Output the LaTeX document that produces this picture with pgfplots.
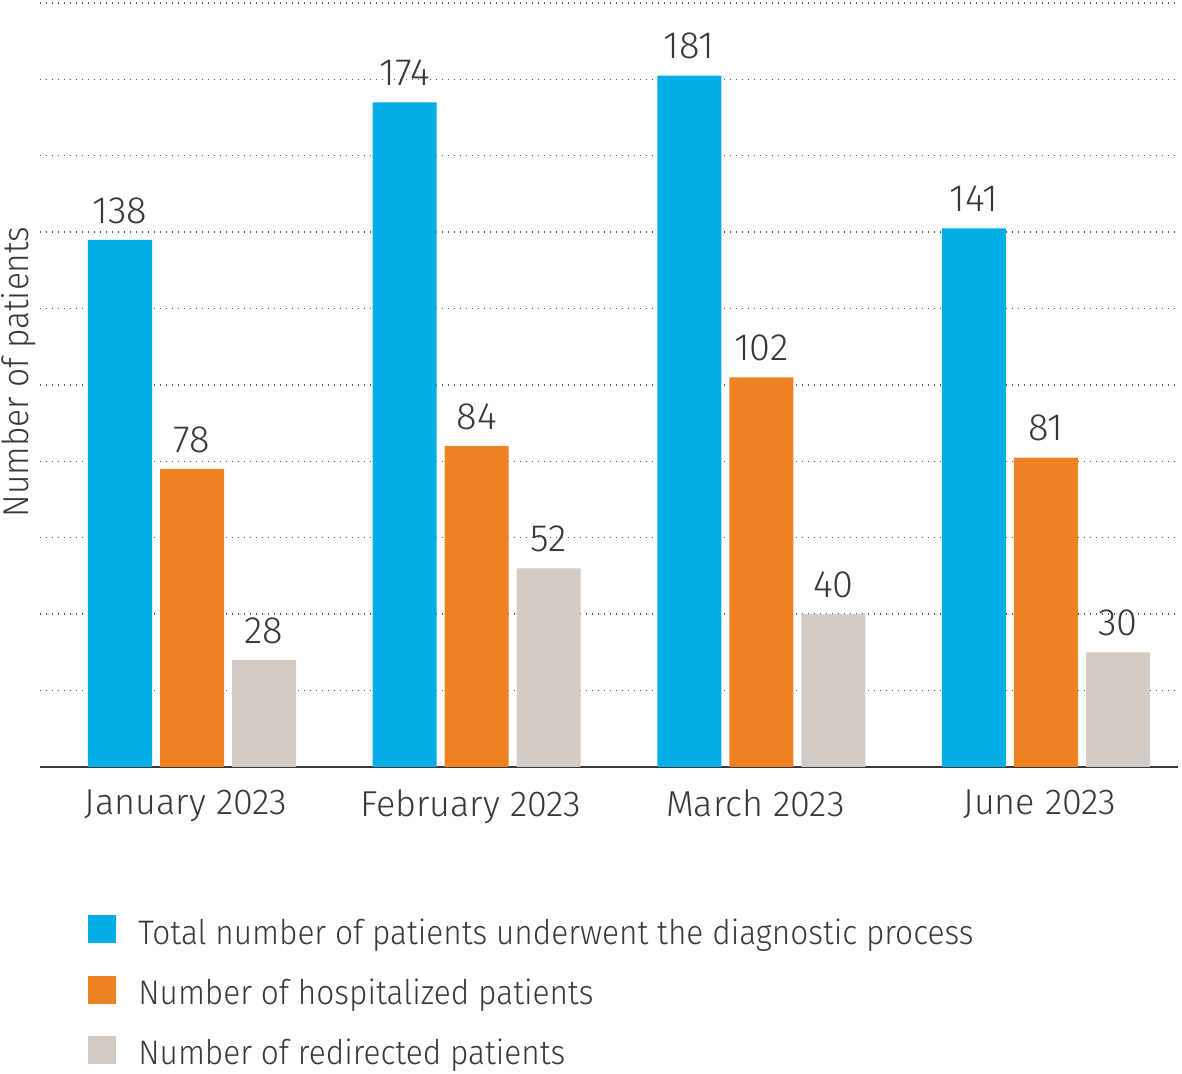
\documentclass[border=0pt]{standalone}
\usepackage{fontspec}
\setmainfont{Fira Sans Light}
\newfontfamily\condfont{Fira Sans Light}[FakeStretch=0.93]
\usepackage{pgfplots}
\pgfplotsset{compat=1.18}
\definecolor{cblue}{HTML}{00ADE6}
\definecolor{corange}{HTML}{EE8120}
\definecolor{cgray}{HTML}{D3CBC6}
\definecolor{ctext}{HTML}{383838}
\definecolor{cgrid}{HTML}{555555}
\begin{document}
\begin{tikzpicture}
\useasboundingbox (-20pt,-153.5pt) rectangle (571pt,383.5pt);
\begin{axis}[
  scale only axis,
  width=569pt, height=382pt,
  xmin=-0.534, xmax=3.464,
  ymin=0, ymax=200,
  ybar, bar width=32pt,
  axis x line*=bottom, axis y line*=left,
  y axis line style={draw=none},
  x axis line style={draw=ctext, line width=1.2pt},
  xtick={0,1,2,3},
  xticklabels={January 2023,February 2023,March 2023,June 2023},
  x tick style={draw=none},
  ytick={20,40,...,200},
  yticklabels={},
  y tick style={draw=none},
  ymajorgrids,
  grid style={draw=cgrid, line width=0.7pt, dash pattern=on 0.7pt off 2.3pt},
  xticklabel style={font=\fontsize{18}{21}\selectfont, text=ctext, inner sep=0pt, yshift=-7pt, xshift=-3pt},
  ylabel={Number of patients},
  every axis y label/.style={at={(axis description cs:-0.0105,0.517)}, anchor=base, rotate=90,
    font=\condfont\fontsize{18}{21}\selectfont, text=ctext, inner sep=0pt},
  /pgf/number format/assume math mode=true,
  nodes near coords,
  every node near coord/.append style={font=\fontsize{19}{22}\selectfont, text=ctext, inner sep=0pt, yshift=8pt},
  legend style={at={(axis description cs:0.0422,-0.1934)}, anchor=north west, draw=none, fill=none, inner sep=0pt,
    font=\condfont\fontsize{17}{20}\selectfont, text=ctext,
    nodes={inner sep=0pt, text height=13pt, text depth=4pt},
    row sep=11.7pt, column sep=11pt},
  legend cell align=left,
  legend image code/.code={\fill[#1,draw=none] (0pt,-4pt) rectangle (14pt,10pt);},
]
\addplot[fill=cblue, draw=none, bar shift=-36pt] coordinates {(0,138) (1,174) (2,181) (3,141)};
\addplot[fill=corange, draw=none, bar shift=0pt] coordinates {(0,78) (1,84) (2,102) (3,81)};
\addplot[fill=cgray, draw=none, bar shift=36pt] coordinates {(0,28) (1,52) (2,40) (3,30)};
\legend{Total number of patients underwent the diagnostic process, Number of hospitalized patients, Number of redirected patients}
\end{axis}
\end{tikzpicture}
\end{document}
